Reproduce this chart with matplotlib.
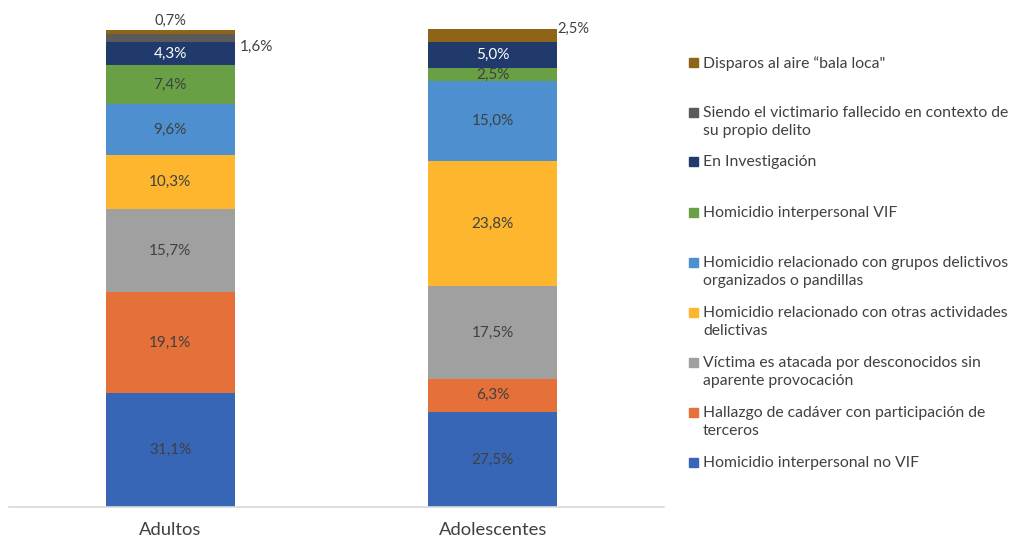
import matplotlib.pyplot as plt
from matplotlib.patches import Rectangle

plt.rcParams['font.family'] = ['Lato', 'DejaVu Sans']

grupos = ['Adultos', 'Adolescentes']

# series from bottom to top of the stack
series = [
    'Homicidio interpersonal no VIF',
    'Hallazgo de cadáver con participación de\nterceros',
    'Víctima es atacada por desconocidos sin\naparente provocación',
    'Homicidio relacionado con otras actividades\ndelictivas',
    'Homicidio relacionado con grupos delictivos\norganizados o pandillas',
    'Homicidio interpersonal VIF',
    'En Investigación',
    'Siendo el victimario fallecido en contexto de\nsu propio delito',
    'Disparos al aire “bala loca"',
]
adultos = [31.1, 19.1, 15.7, 10.3, 9.6, 7.4, 4.3, 1.6, 0.7]
adolescentes = [27.5, 6.3, 17.5, 23.8, 15.0, 2.5, 5.0, 0.0, 2.5]

colores = ['#3866b7', '#e5703a', '#a0a0a0', '#fdb62d', '#4d8fcf',
           '#69a046', '#203a6b', '#5a5a5a', '#8e6419']
texto = '#404040'

fig = plt.figure(figsize=(10.13, 5.39), dpi=100)
ax = fig.add_axes([0.009, 0.0594, 0.646, 0.8866])

YMIN = 9.5  # el eje del original no parte en cero
x = [0, 1]
ancho = 0.40
fs = 11
base = [0.0, 0.0]
for i, nombre in enumerate(series):
    vals = [adultos[i], adolescentes[i]]
    ax.bar(x, vals, ancho, bottom=base, color=colores[i], edgecolor='none')
    for j in range(2):
        v = vals[j]
        if v == 0:
            continue
        lbl = f'{v:.1f}%'.replace('.', ',')
        yc = (max(base[j], YMIN) + base[j] + v) / 2
        col = 'white' if i == 6 else texto
        if i == 8 and j == 0:
            ax.text(x[j], base[j] + v + 0.5, lbl, ha='center', va='bottom',
                    fontsize=fs - 0.5, color=texto, clip_on=False)
        elif i == 7 and j == 0:
            ax.text(x[j] + ancho / 2 + 0.015, yc - 1.6, lbl, ha='left', va='center',
                    fontsize=fs, color=texto, clip_on=False)
        elif i == 8 and j == 1:
            ax.text(x[j] + ancho / 2 + 0.0, yc + 1.2, lbl, ha='left', va='center',
                    fontsize=fs - 0.5, color=texto, clip_on=False)
        else:
            ax.text(x[j], yc, lbl, ha='center', va='center',
                    fontsize=fs, color=col)
    base = [base[0] + vals[0], base[1] + vals[1]]

ax.set_xlim(-0.50, 1.53)
ax.set_ylim(YMIN, 100)
ax.set_yticks([])
ax.set_xticks(x)
ax.set_xticklabels(grupos, fontsize=13.2, color=texto)
ax.tick_params(axis='x', length=0, pad=11)
for s in ['top', 'right', 'left']:
    ax.spines[s].set_visible(False)
ax.spines['bottom'].set_color('#d9d9d9')
ax.spines['bottom'].set_linewidth(1.2)

# leyenda manual (de arriba hacia abajo)
W, H = 1013, 539
y_centro = [62, 112, 161, 212, 262, 312, 362, 412, 462]
for k, idx in enumerate(range(len(series) - 1, -1, -1)):
    yc = y_centro[k]
    fig.patches.append(Rectangle((689 / W, 1 - (yc + 5) / H), 9 / W, 9 / H,
                                 transform=fig.transFigure, color=colores[idx]))
    fig.text(703 / W, 1 - (yc - 6) / H, series[idx], ha='left', va='top',
             fontsize=11.3, color=texto, linespacing=1.32)

fig.savefig('out.png', dpi=100)
